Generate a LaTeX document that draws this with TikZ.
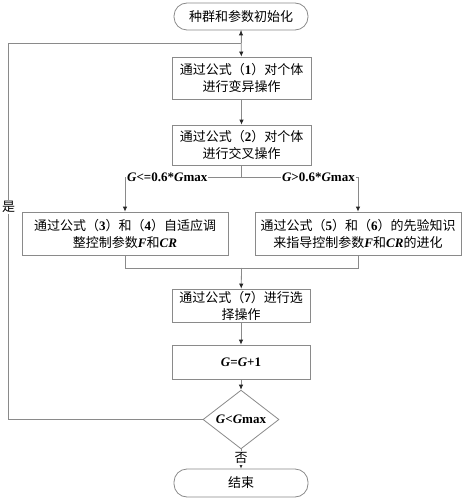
\documentclass[tikz,border=0pt]{standalone}
\usepackage{fontspec}
\setmainfont{Noto Sans CJK SC}
\newfontfamily\tnr{Liberation Serif}
\usetikzlibrary{arrows.meta,shapes.geometric}
\newcommand\lt[1]{{\tnr\bfseries #1}}
\newcommand\li[1]{{\tnr\bfseries\itshape #1}}
\definecolor{ln}{HTML}{8A8A8A}
\begin{document}
\begin{tikzpicture}[x=1pt,y=-1pt,
  every node/.style={font=\fontsize{13pt}{17pt}\selectfont, text=black},
  boxn/.style={draw=ln, line width=0.8pt, rectangle, inner sep=0pt, align=center},
  term/.style={boxn, rounded corners=13pt},
  lnk/.style={draw=ln, line width=0.8pt},
  arr/.style={lnk, -{Latex[length=5pt,width=4.5pt,color=black!85]}},
  lab/.style={fill=white, inner sep=1pt}]
\fill[white] (0,0) rectangle (475,500);
\useasboundingbox (0,0) rectangle (475,500);
\node[term, minimum width=134pt, minimum height=27pt] (start) at (241,16.5) {种群和参数初始化};
\node[boxn, minimum width=139pt, minimum height=42pt] (b1) at (241.5,78) {通过公式（\lt{1}）对个体\\进行变异操作};
\node[boxn, minimum width=139pt, minimum height=40pt] (b2) at (241.5,145) {通过公式（\lt{2}）对个体\\进行交叉操作};
\node[boxn, minimum width=206pt, minimum height=43pt] (bl) at (125,233.5) {通过公式（\lt{3}）和（\lt{4}）自适应调\\整控制参数\li{F}和\li{CR}};
\node[boxn, minimum width=206pt, minimum height=43pt] (br) at (358,233.5) {通过公式（\lt{5}）和（\lt{6}）的先验知识\\来指导控制参数\li{F}和\li{CR}的进化};
\node[boxn, minimum width=138pt, minimum height=33pt] (b7) at (241,305.5) {通过公式（\lt{7}）进行选\\择操作};
\node[boxn, minimum width=138pt, minimum height=34pt] (bg) at (241,362) {\li{G}\lt{=}\li{G}\lt{+1}};
\node[draw=ln, line width=0.8pt, diamond, minimum width=76pt, minimum height=41pt, inner sep=0pt] (dia) at (241,419.5) {\li{G}\lt{<}\li{G}\lt{max}};
\node[term, minimum width=134pt, minimum height=28pt] (end) at (241,483) {结束};
\coordinate (j1) at (241.5,177);
\coordinate (j2) at (241.5,268);
\coordinate (jt) at (241,43);
\coordinate (lp) at (8,43);
\draw[arr] (start) -- (b1);
\draw[arr] (b1) -- (b2);
\draw[lnk] (b2.south) -- (j1);
\draw[arr] (j1) -| (bl.north);
\draw[arr] (j1) -| (br.north);
\draw[lnk] (bl.south) |- (j2);
\draw[lnk] (br.south) |- (j2);
\draw[arr] (j2) -- (b7);
\draw[arr] (b7) -- (bg);
\draw[arr] (bg) -- (dia);
\draw[arr] (dia) -- node[lab, pos=0.45] (no) {否} (end);
\draw[lnk] (dia.west) -| (lp) -- (jt);
\draw[arr] (jt) -- (start.south);
\node[lab, anchor=west] (lL) at (126,177) {\li{G}\lt{<=0.6*}\li{G}\lt{max}};
\node[lab, anchor=east] (lR) at (356,177) {\li{G}\lt{>0.6*}\li{G}\lt{max}};
\node[lab] (yes) at (8.5,207) {是};
\end{tikzpicture}
\end{document}
